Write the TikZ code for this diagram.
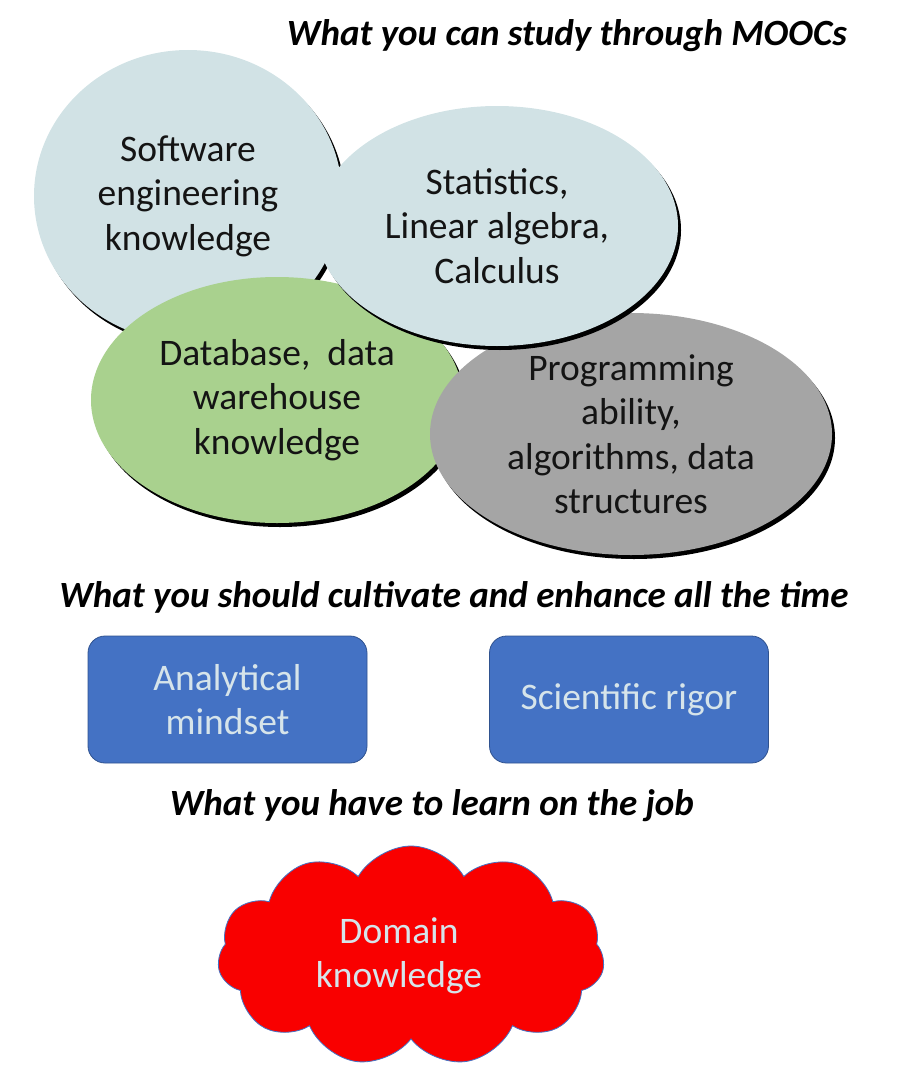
\documentclass[tikz,border=0pt]{standalone}
\usepackage{fontspec}
\setmainfont{Carlito}
\usetikzlibrary{shapes.geometric,shapes.symbols,shadows}
\definecolor{ltblue}{HTML}{D1E2E5}
\definecolor{ltgreen}{HTML}{A9D18E}
\definecolor{midgray}{HTML}{A5A5A5}
\definecolor{boxblue}{HTML}{4472C4}
\definecolor{boxedge}{HTML}{2F528F}
\definecolor{paletext}{HTML}{D6E4EA}
\definecolor{darktext}{HTML}{141414}
\definecolor{cloudred}{HTML}{F90000}
\begin{document}
\begin{tikzpicture}[x=1pt,y=-1pt,
  bodyfont/.style={font=\fontsize{37.5}{44.5}\selectfont},
  headfont/.style={font=\fontsize{37}{44}\selectfont\bfseries\itshape},
  bubble/.style={ellipse, inner sep=0pt, align=center, text=darktext, bodyfont,
    drop shadow={shadow xshift=3pt, shadow yshift=-4pt, fill=black, opacity=1}},
  skillbox/.style={rectangle, rounded corners=17pt, fill=boxblue, draw=boxedge, line width=0.8pt,
    inner sep=0pt, minimum width=279pt, minimum height=127pt, align=center, text=paletext, bodyfont},
  heading/.style={inner sep=0pt, text=black, headfont}
]
\useasboundingbox (0,0) rectangle (904,1065);

\node[heading] (h1) at (567,36) {What you can study through MOOCs};
\node[heading] (h2) at (454,597) {What you should cultivate and enhance all the time};
\node[heading] (h3) at (432,806) {What you have to learn on the job};

\node[bubble, fill=ltblue, minimum width=308pt, minimum height=292pt] (soft) at (188,196)
  {Software\\engineering\\knowledge};
\node[bubble, fill=ltgreen, minimum width=372pt, minimum height=246pt] (db) at (277,400)
  {Database,~ data\\warehouse\\knowledge};
\node[bubble, fill=midgray, minimum width=402pt, minimum height=242pt] (prog) at (631,434)
  {Programming\\ability,\\algorithms, data\\structures};
\node[bubble, fill=ltblue, minimum width=362pt, minimum height=240pt] (stat) at (497,226)
  {Statistics,\\Linear algebra,\\Calculus};

\node[skillbox] (anal) at (227.5,699.5) {Analytical\\mindset};
\node[skillbox] (sci) at (629,699.5) {Scientific rigor};

\node[cloud, cloud puffs=11, cloud puff arc=120, aspect=1.8, fill=cloudred, draw=boxblue, line width=0.8pt,
  minimum width=387pt, minimum height=220pt, inner sep=0pt, align=center, text=paletext, bodyfont]
  (dom) at (411,956) {\hspace*{-24pt}Domain\\\hspace*{-24pt}knowledge};
\end{tikzpicture}
\end{document}
